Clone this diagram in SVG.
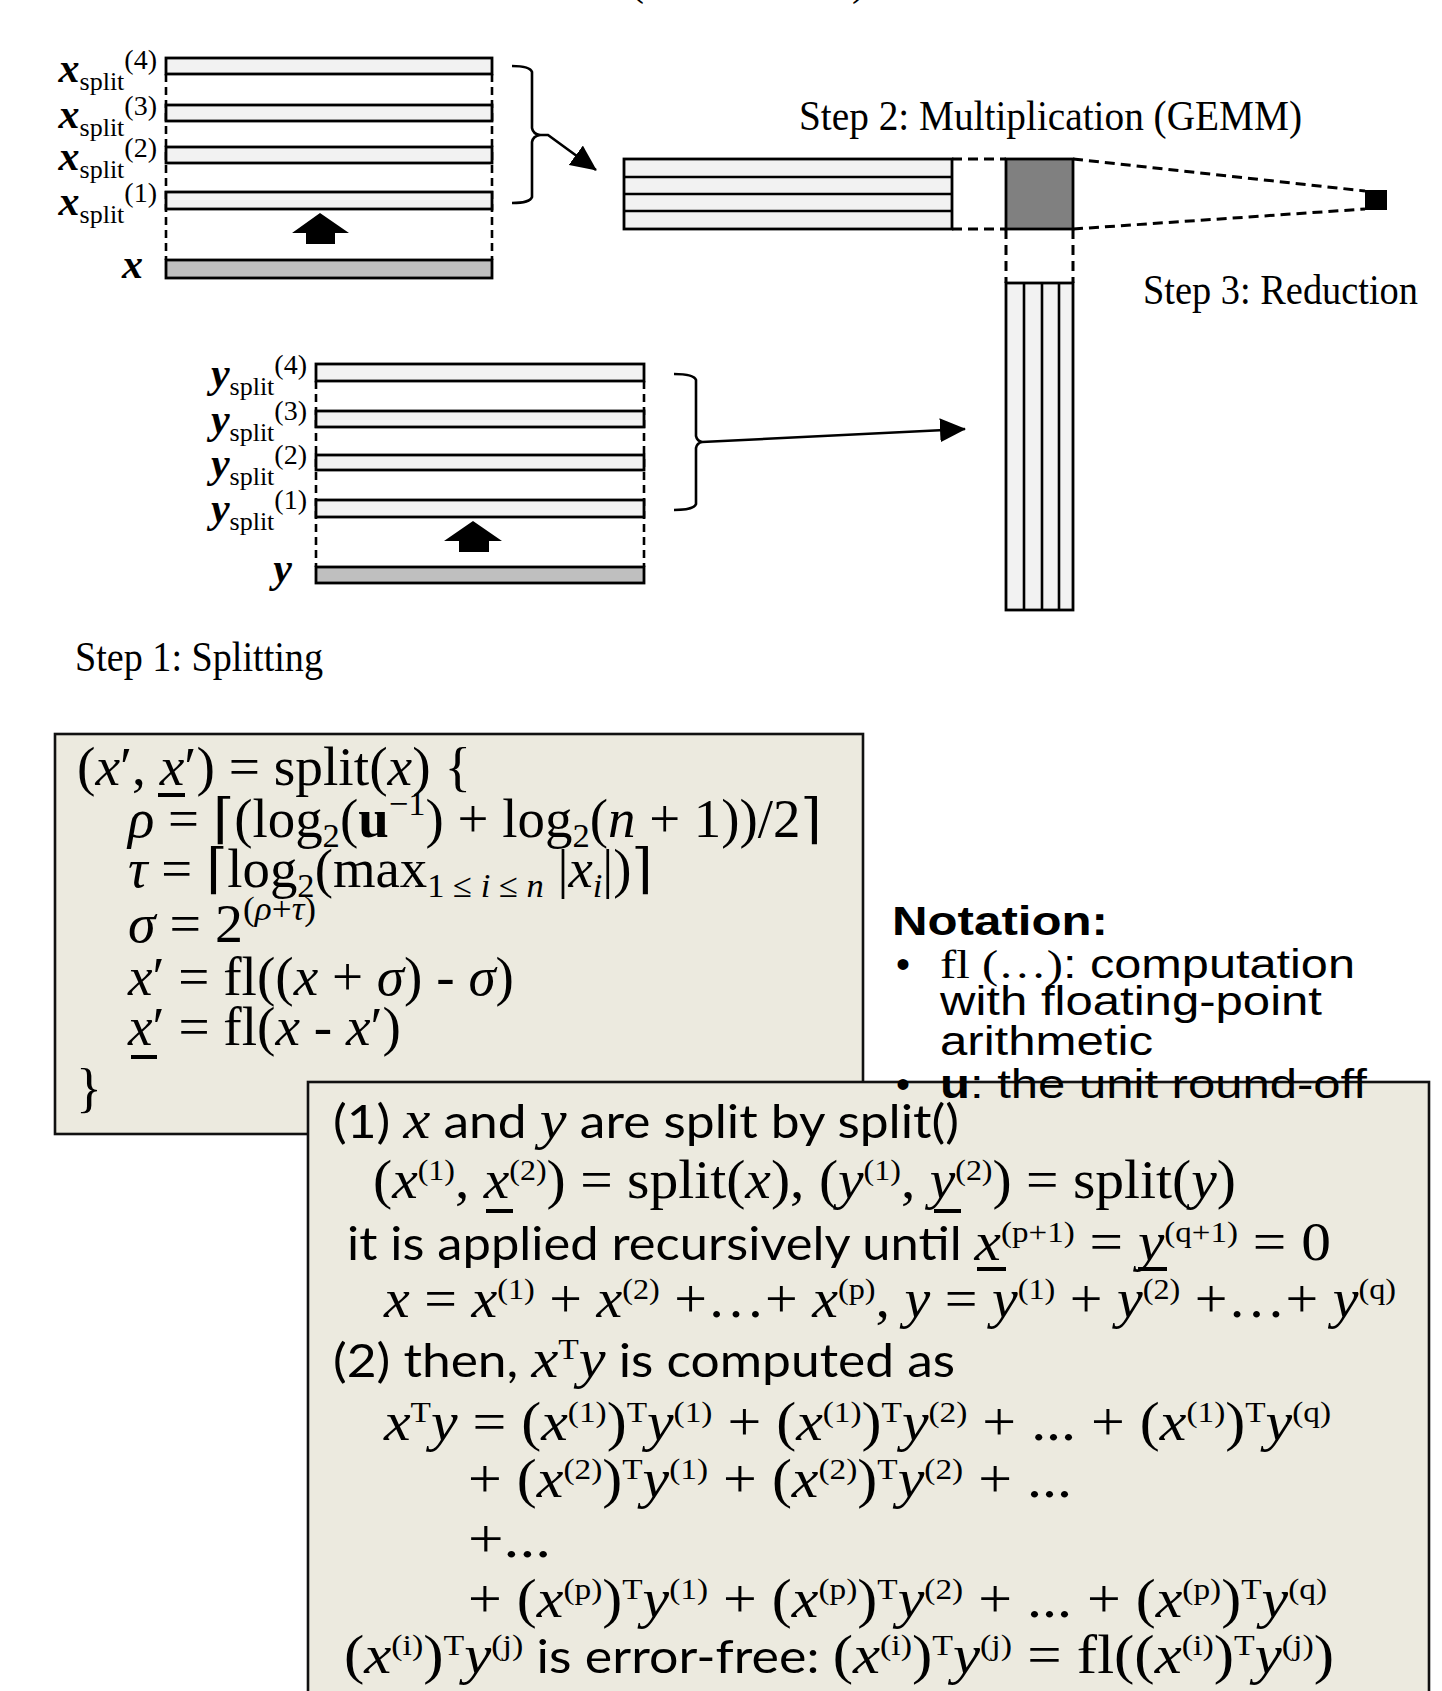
<svg xmlns="http://www.w3.org/2000/svg" width="1442" height="1691" viewBox="0 0 1442 1691">
<defs>
<style>
.bar{fill:#f2f2f2;stroke:#000;stroke-width:2.8}
.src{fill:#bfbfbf;stroke:#000;stroke-width:2.8}
.dark{fill:#808080;stroke:#000;stroke-width:2.8}
.ln{stroke:#000;stroke-width:2.6;fill:none}
.dash{stroke:#000;stroke-width:2.6;fill:none;stroke-dasharray:8 5}
.dash2{stroke:#000;stroke-width:3;fill:none;stroke-dasharray:10 6}
.brace{stroke:#000;stroke-width:2.6;fill:none}
.box{fill:#ECEADF;stroke:#111;stroke-width:2.6}
.lbl{font-family:"Liberation Serif","DejaVu Serif",serif;font-size:26px;fill:#000}
.bi{font-weight:bold;font-style:italic;font-size:42px}
.ls{font-size:26px;baseline-shift:-8px}
.lp{font-size:28px;baseline-shift:13px}
.step{font-family:"Liberation Serif","DejaVu Serif",serif;font-size:42px;fill:#000}
.m{font-family:"Liberation Serif","DejaVu Serif",serif;font-size:54px;fill:#000}
.i{font-style:italic}
.b{font-weight:bold}
.s1{font-size:34px;baseline-shift:-10px}
.p1{font-size:34px;baseline-shift:22px}
.p2{font-size:30px;baseline-shift:18px}
.c{font-family:Lato,"Liberation Sans",sans-serif;font-size:46px;font-style:normal}
.note{font-family:"Liberation Sans",Arial,sans-serif;font-size:40px;fill:#000}
.ul{fill:#000}
</style>
<marker id="ah" markerUnits="userSpaceOnUse" markerWidth="26" markerHeight="24" refX="25" refY="12" orient="auto"><path d="M0,0 L26,12 L0,24 z" fill="#000"/></marker>
</defs>
<rect width="1442" height="1691" fill="#fff"/>

<g id="top-fragment">
<text class="step" x="630" y="-5">(</text>
<text class="step" x="852" y="-5">)</text>
</g>

<g id="connectors">
<line class="dash" x1="166" y1="74" x2="166" y2="260"/>
<line class="dash" x1="492" y1="74" x2="492" y2="260"/>
<line class="dash" x1="316" y1="381" x2="316" y2="567"/>
<line class="dash" x1="644" y1="381" x2="644" y2="567"/>
<path class="brace" d="M512,66 Q530,66 532,72 L532,128 Q533,134 540,135 Q533,136 532,142 L532,197 Q530,203 512,203"/>
<path class="ln" d="M540,135 L548,135 L596,170" marker-end="url(#ah)"/>
<path class="brace" d="M674,374 Q694,374 696,380 L696,436 Q697,441 702,442 Q697,443 696,448 L696,504 Q694,510 674,510"/>
<path class="ln" d="M702,442 L965,429" marker-end="url(#ah)"/>
<line class="dash2" x1="952" y1="159" x2="1006" y2="159"/>
<line class="dash2" x1="952" y1="229" x2="1006" y2="229"/>
<line class="dash2" x1="1006" y1="229" x2="1006" y2="283"/>
<line class="dash2" x1="1073" y1="229" x2="1073" y2="283"/>
<line class="dash2" x1="1073" y1="159" x2="1365" y2="191"/>
<line class="dash2" x1="1073" y1="229" x2="1365" y2="209"/>
</g>

<g id="x-splits">
<rect class="bar" x="166" y="58" width="326" height="16"/>
<rect class="bar" x="166" y="105" width="326" height="16"/>
<rect class="bar" x="166" y="147" width="326" height="16"/>
<rect class="bar" x="166" y="192" width="326" height="17"/>
<rect class="src" x="166" y="260" width="326" height="18"/>
<polygon points="320,213 349,233 335,233 335,244 306,244 306,233 292,233" fill="#000"/>
<text class="lbl" x="157" y="82" text-anchor="end"><tspan class="bi">x</tspan><tspan class="ls">split</tspan><tspan class="lp">(4)</tspan></text>
<text class="lbl" x="157" y="128" text-anchor="end"><tspan class="bi">x</tspan><tspan class="ls">split</tspan><tspan class="lp">(3)</tspan></text>
<text class="lbl" x="157" y="170" text-anchor="end"><tspan class="bi">x</tspan><tspan class="ls">split</tspan><tspan class="lp">(2)</tspan></text>
<text class="lbl" x="157" y="215" text-anchor="end"><tspan class="bi">x</tspan><tspan class="ls">split</tspan><tspan class="lp">(1)</tspan></text>
<text class="lbl" x="143" y="278" text-anchor="end"><tspan class="bi">x</tspan></text>
</g>

<g id="y-splits">
<rect class="bar" x="316" y="364" width="328" height="17"/>
<rect class="bar" x="316" y="411" width="328" height="16"/>
<rect class="bar" x="316" y="455" width="328" height="15"/>
<rect class="bar" x="316" y="500" width="328" height="17"/>
<rect class="src" x="316" y="567" width="328" height="16"/>
<polygon points="473,521 502,541 489,541 489,552 459,552 459,541 444,541" fill="#000"/>
<text class="lbl" x="307" y="387" text-anchor="end"><tspan class="bi">y</tspan><tspan class="ls">split</tspan><tspan class="lp">(4)</tspan></text>
<text class="lbl" x="307" y="433" text-anchor="end"><tspan class="bi">y</tspan><tspan class="ls">split</tspan><tspan class="lp">(3)</tspan></text>
<text class="lbl" x="307" y="477" text-anchor="end"><tspan class="bi">y</tspan><tspan class="ls">split</tspan><tspan class="lp">(2)</tspan></text>
<text class="lbl" x="307" y="522" text-anchor="end"><tspan class="bi">y</tspan><tspan class="ls">split</tspan><tspan class="lp">(1)</tspan></text>
<text class="lbl" x="292" y="582" text-anchor="end"><tspan class="bi">y</tspan></text>
</g>

<g id="gemm">
<rect class="bar" x="624" y="159" width="328" height="70"/>
<line class="ln" x1="624" y1="177" x2="952" y2="177"/>
<line class="ln" x1="624" y1="194" x2="952" y2="194"/>
<line class="ln" x1="624" y1="211" x2="952" y2="211"/>
<rect class="dark" x="1006" y="159" width="67" height="70"/>
<rect class="bar" x="1006" y="283" width="67" height="327"/>
<line class="ln" x1="1024" y1="283" x2="1024" y2="610"/>
<line class="ln" x1="1042" y1="283" x2="1042" y2="610"/>
<line class="ln" x1="1059" y1="283" x2="1059" y2="610"/>
<rect x="1365" y="190" width="22" height="20" fill="#000"/>
</g>

<g id="step-labels">
<text class="step" x="799" y="130" textLength="503" lengthAdjust="spacingAndGlyphs">Step 2: Multiplication  (GEMM)</text>
<text class="step" x="1143" y="304" textLength="275" lengthAdjust="spacingAndGlyphs">Step 3: Reduction</text>
<text class="step" x="75" y="671" textLength="248" lengthAdjust="spacingAndGlyphs">Step 1: Splitting</text>
</g>

<g id="split-box">
<rect class="box" x="55" y="734" width="808" height="400"/>
<text class="m" x="77" y="785" textLength="394" lengthAdjust="spacingAndGlyphs">(<tspan class="i">x</tspan>′, <tspan class="i">x</tspan>′) = split(<tspan class="i">x</tspan>)  {</text>
<text class="m" x="128" y="837" textLength="694" lengthAdjust="spacingAndGlyphs"><tspan class="i">ρ</tspan> = ⌈(log<tspan class="s1">2</tspan>(<tspan class="b">u</tspan><tspan class="p1">−1</tspan>)  + log<tspan class="s1">2</tspan>(<tspan class="i">n</tspan> + 1))/2⌉</text>
<text class="m" x="128" y="887" textLength="525" lengthAdjust="spacingAndGlyphs"><tspan class="i">τ</tspan> = ⌈log<tspan class="s1">2</tspan>(max<tspan class="s1">1 ≤ </tspan><tspan class="s1 i">i</tspan><tspan class="s1"> ≤ </tspan><tspan class="s1 i">n</tspan> |<tspan class="i">x</tspan><tspan class="s1 i">i</tspan>|)⌉</text>
<text class="m" x="128" y="942" textLength="188" lengthAdjust="spacingAndGlyphs"><tspan class="i">σ</tspan> = 2<tspan class="p1">(</tspan><tspan class="p1 i">ρ</tspan><tspan class="p1">+</tspan><tspan class="p1 i">τ</tspan><tspan class="p1">)</tspan></text>
<text class="m" x="128" y="995" textLength="386" lengthAdjust="spacingAndGlyphs"><tspan class="i">x</tspan>′ = fl((<tspan class="i">x</tspan> + <tspan class="i">σ</tspan>) - <tspan class="i">σ</tspan>)</text>
<text class="m" x="128" y="1045" textLength="273" lengthAdjust="spacingAndGlyphs"><tspan class="i">x</tspan>′ = fl(<tspan class="i">x</tspan> - <tspan class="i">x</tspan>′)</text>
<text class="m" x="76" y="1106" font-size="64">}</text>
<rect class="ul" x="158" y="793" width="27" height="4"/>
<rect class="ul" x="131" y="1055" width="26" height="4"/>
</g>

<g id="algorithm-box">
<rect class="box" x="308" y="1082" width="1121" height="630"/>
<text class="m" x="333" y="1138" textLength="626" lengthAdjust="spacingAndGlyphs"><tspan class="c">(1) </tspan><tspan class="i">x</tspan><tspan class="c"> and </tspan><tspan class="i">y</tspan><tspan class="c"> are split by split()</tspan></text>
<text class="m" x="373" y="1198" textLength="863" lengthAdjust="spacingAndGlyphs">(<tspan class="i">x</tspan><tspan class="p2">(1)</tspan>, <tspan class="i">x</tspan><tspan class="p2">(2)</tspan>) = split(<tspan class="i">x</tspan>),  (<tspan class="i">y</tspan><tspan class="p2">(1)</tspan>, <tspan class="i">y</tspan><tspan class="p2">(2)</tspan>) = split(<tspan class="i">y</tspan>)</text>
<text class="m" x="347" y="1260" textLength="984" lengthAdjust="spacingAndGlyphs"><tspan class="c">it is applied recursively until </tspan><tspan class="i">x</tspan><tspan class="p2">(p+1)</tspan> = <tspan class="i">y</tspan><tspan class="p2">(q+1)</tspan> = 0</text>
<text class="m" x="384" y="1317" textLength="1012" lengthAdjust="spacingAndGlyphs"><tspan class="i">x</tspan> = <tspan class="i">x</tspan><tspan class="p2">(1)</tspan> + <tspan class="i">x</tspan><tspan class="p2">(2)</tspan> +…+ <tspan class="i">x</tspan><tspan class="p2">(p)</tspan>, <tspan class="i">y</tspan> = <tspan class="i">y</tspan><tspan class="p2">(1)</tspan> + <tspan class="i">y</tspan><tspan class="p2">(2)</tspan> +…+ <tspan class="i">y</tspan><tspan class="p2">(q)</tspan></text>
<text class="m" x="333" y="1377" textLength="622" lengthAdjust="spacingAndGlyphs"><tspan class="c">(2) then, </tspan><tspan class="i">x</tspan><tspan class="p2">T</tspan><tspan class="i">y</tspan><tspan class="c"> is computed  as</tspan></text>
<text class="m" x="384" y="1440" textLength="947" lengthAdjust="spacingAndGlyphs"><tspan class="i">x</tspan><tspan class="p2">T</tspan><tspan class="i">y</tspan> = (<tspan class="i">x</tspan><tspan class="p2">(1)</tspan>)<tspan class="p2">T</tspan><tspan class="i">y</tspan><tspan class="p2">(1)</tspan> + (<tspan class="i">x</tspan><tspan class="p2">(1)</tspan>)<tspan class="p2">T</tspan><tspan class="i">y</tspan><tspan class="p2">(2)</tspan> + ... + (<tspan class="i">x</tspan><tspan class="p2">(1)</tspan>)<tspan class="p2">T</tspan><tspan class="i">y</tspan><tspan class="p2">(q)</tspan></text>
<text class="m" x="468" y="1497" textLength="604" lengthAdjust="spacingAndGlyphs">+ (<tspan class="i">x</tspan><tspan class="p2">(2)</tspan>)<tspan class="p2">T</tspan><tspan class="i">y</tspan><tspan class="p2">(1)</tspan> + (<tspan class="i">x</tspan><tspan class="p2">(2)</tspan>)<tspan class="p2">T</tspan><tspan class="i">y</tspan><tspan class="p2">(2)</tspan> + ...</text>
<text class="m" x="468" y="1557" textLength="83" lengthAdjust="spacingAndGlyphs">+...</text>
<text class="m" x="468" y="1617" textLength="859" lengthAdjust="spacingAndGlyphs">+ (<tspan class="i">x</tspan><tspan class="p2">(p)</tspan>)<tspan class="p2">T</tspan><tspan class="i">y</tspan><tspan class="p2">(1)</tspan> + (<tspan class="i">x</tspan><tspan class="p2">(p)</tspan>)<tspan class="p2">T</tspan><tspan class="i">y</tspan><tspan class="p2">(2)</tspan> + ... + (<tspan class="i">x</tspan><tspan class="p2">(p)</tspan>)<tspan class="p2">T</tspan><tspan class="i">y</tspan><tspan class="p2">(q)</tspan></text>
<text class="m" x="344" y="1673" textLength="990" lengthAdjust="spacingAndGlyphs">(<tspan class="i">x</tspan><tspan class="p2">(i)</tspan>)<tspan class="p2">T</tspan><tspan class="i">y</tspan><tspan class="p2">(j)</tspan><tspan class="c">  is error-free: </tspan>(<tspan class="i">x</tspan><tspan class="p2">(i)</tspan>)<tspan class="p2">T</tspan><tspan class="i">y</tspan><tspan class="p2">(j)</tspan> = fl((<tspan class="i">x</tspan><tspan class="p2">(i)</tspan>)<tspan class="p2">T</tspan><tspan class="i">y</tspan><tspan class="p2">(j)</tspan>)</text>
<rect class="ul" x="486" y="1209" width="27" height="4"/>
<rect class="ul" x="934" y="1209" width="27" height="4"/>
<rect class="ul" x="977" y="1267" width="29" height="4"/>
<rect class="ul" x="1138" y="1267" width="29" height="4"/>
</g>

<g id="notation">
<text class="note b" x="892" y="935" textLength="216" lengthAdjust="spacingAndGlyphs" font-size="44">Notation:</text>
<text class="note" x="896" y="978">•</text>
<text class="note" x="940" y="978" textLength="415" lengthAdjust="spacingAndGlyphs"><tspan font-family="Liberation Serif, serif">fl (…)</tspan>: computation</text>
<text class="note" x="940" y="1015" textLength="382" lengthAdjust="spacingAndGlyphs">with floating-point</text>
<text class="note" x="940" y="1055" textLength="213" lengthAdjust="spacingAndGlyphs">arithmetic</text>
<text class="note" x="896" y="1098">•</text>
<text class="note" x="940" y="1098" textLength="427" lengthAdjust="spacingAndGlyphs"><tspan class="b">u</tspan>: the unit round-off</text>
</g>
</svg>
